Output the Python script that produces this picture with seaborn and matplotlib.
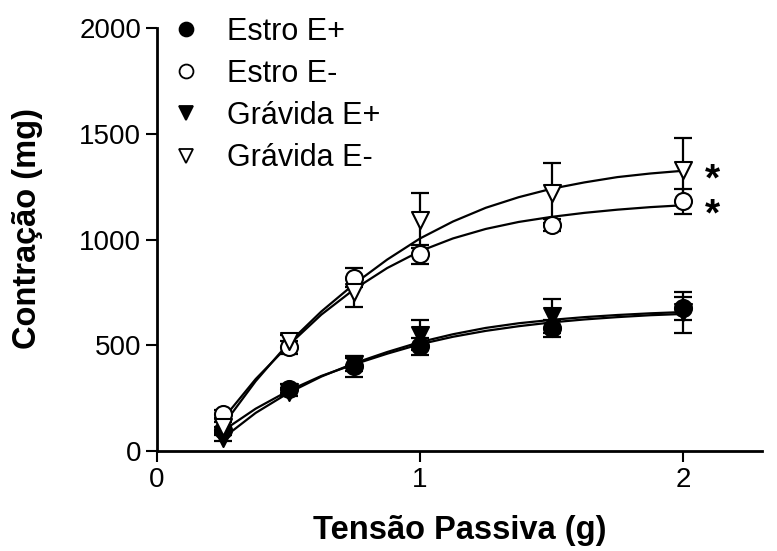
import numpy as np
import pandas as pd
import matplotlib.pyplot as plt
import seaborn as sns
from matplotlib.lines import Line2D

# data
tension = [0.25, 0.5, 0.75, 1.0, 1.5, 2.0]

estro_pos = [100, 295, 400, 495, 580, 675]
estro_pos_sem = [15, 20, 50, 40, 40, 55]
estro_neg = [175, 490, 820, 930, 1069, 1180]
estro_neg_sem = [20, 30, 45, 45, 30, 60]
gravida_pos = [60, 280, 410, 548, 640, 655]
gravida_pos_sem = [15, 20, 30, 70, 80, 95]
gravida_neg = [115, 520, 750, 1090, 1220, 1330]
gravida_neg_sem = [20, 28, 70, 130, 140, 150]

# fitted curves
curve_x = [0.25, 0.375, 0.5, 0.625, 0.75, 0.875, 1.0, 1.125, 1.25,
           1.375, 1.5, 1.625, 1.75, 1.875, 2.0]
curve_estro_pos = [95, 200, 285, 355, 410, 460, 505, 540, 568,
                   590, 608, 622, 633, 642, 648]
curve_estro_neg = [150, 340, 500, 645, 765, 865, 945, 1005, 1050,
                   1083, 1107, 1126, 1141, 1153, 1162]
curve_gravida_pos = [60, 180, 275, 352, 415, 468, 515, 552, 582,
                     604, 620, 633, 643, 651, 657]
curve_gravida_neg = [120, 330, 510, 660, 790, 905, 1005, 1085, 1150,
                     1200, 1240, 1270, 1295, 1312, 1325]

groups = ['Estro E+', 'Estro E-', 'Grávida E+', 'Grávida E-']
markers = {'Estro E+': 'o', 'Estro E-': 'o', 'Grávida E+': 'v', 'Grávida E-': 'v'}
faces = {'Estro E+': 'black', 'Estro E-': 'white', 'Grávida E+': 'black', 'Grávida E-': 'white'}

# asterisk positions (significance)
star_x = 2.11
star_y = [1280, 1115]

pts = pd.DataFrame({
    'x': tension * 4,
    'y': estro_pos + estro_neg + gravida_pos + gravida_neg,
    'sem': estro_pos_sem + estro_neg_sem + gravida_pos_sem + gravida_neg_sem,
    'grupo': np.repeat(groups, len(tension)),
})
curves = pd.DataFrame({
    'x': curve_x * 4,
    'y': curve_estro_pos + curve_estro_neg + curve_gravida_pos + curve_gravida_neg,
    'grupo': np.repeat(groups, len(curve_x)),
})

sns.set_style('ticks')
plt.rcParams['font.family'] = ['Liberation Sans', 'DejaVu Sans']
plt.rcParams['text.color'] = 'black'
plt.rcParams['axes.labelcolor'] = 'black'

fig = plt.figure(figsize=(7.77, 5.51), dpi=100)
ax = fig.add_axes([157 / 777, 1 - 451 / 551, (762 - 157) / 777, (451 - 28) / 551])

# curves
sns.lineplot(data=curves, x='x', y='y', hue='grupo', palette=['black'] * 4,
             lw=1.6, legend=False, ax=ax, zorder=2)

# error bars + markers
for g in groups:
    d = pts[pts['grupo'] == g]
    ax.errorbar(d['x'], d['y'], yerr=d['sem'], fmt='none', ecolor='black',
                elinewidth=1.6, capsize=6.5, capthick=1.6, zorder=3)
    sns.scatterplot(x=d['x'], y=d['y'], marker=markers[g], s=150,
                    color=faces[g], edgecolor='black', linewidth=1.5,
                    ax=ax, zorder=4, legend=False)

for yv in star_y:
    ax.text(star_x, yv, '*', fontsize=28, fontweight='bold', ha='center', va='center')

ax.set_xlim(0, 2.3)
ax.set_ylim(0, 2000)
ax.set_xticks([0, 1, 2])
ax.set_yticks([0, 500, 1000, 1500, 2000])
ax.tick_params(labelsize=20, width=1.5, length=8, color='black', labelcolor='black')
for s in ['left', 'bottom']:
    ax.spines[s].set_linewidth(2)
    ax.spines[s].set_color('black')
sns.despine(ax=ax)

ax.set_xlabel('Tensão Passiva (g)', fontsize=23.5, fontweight='bold', labelpad=16)
ax.set_ylabel('Contração (mg)', fontsize=23.5, fontweight='bold')
ax.yaxis.set_label_coords(-0.188, 0.527)

handles = [Line2D([], [], ls='none', marker=markers[g], markersize=10,
                  markerfacecolor=faces[g], markeredgecolor='black', markeredgewidth=1.3)
           for g in groups]
ax.legend(handles, groups, loc='upper left', bbox_to_anchor=(-0.033, 1.07), frameon=False,
          fontsize=22, handletextpad=0.34, labelspacing=0.4, borderaxespad=0.2)

fig.savefig('out.png', dpi=100)
